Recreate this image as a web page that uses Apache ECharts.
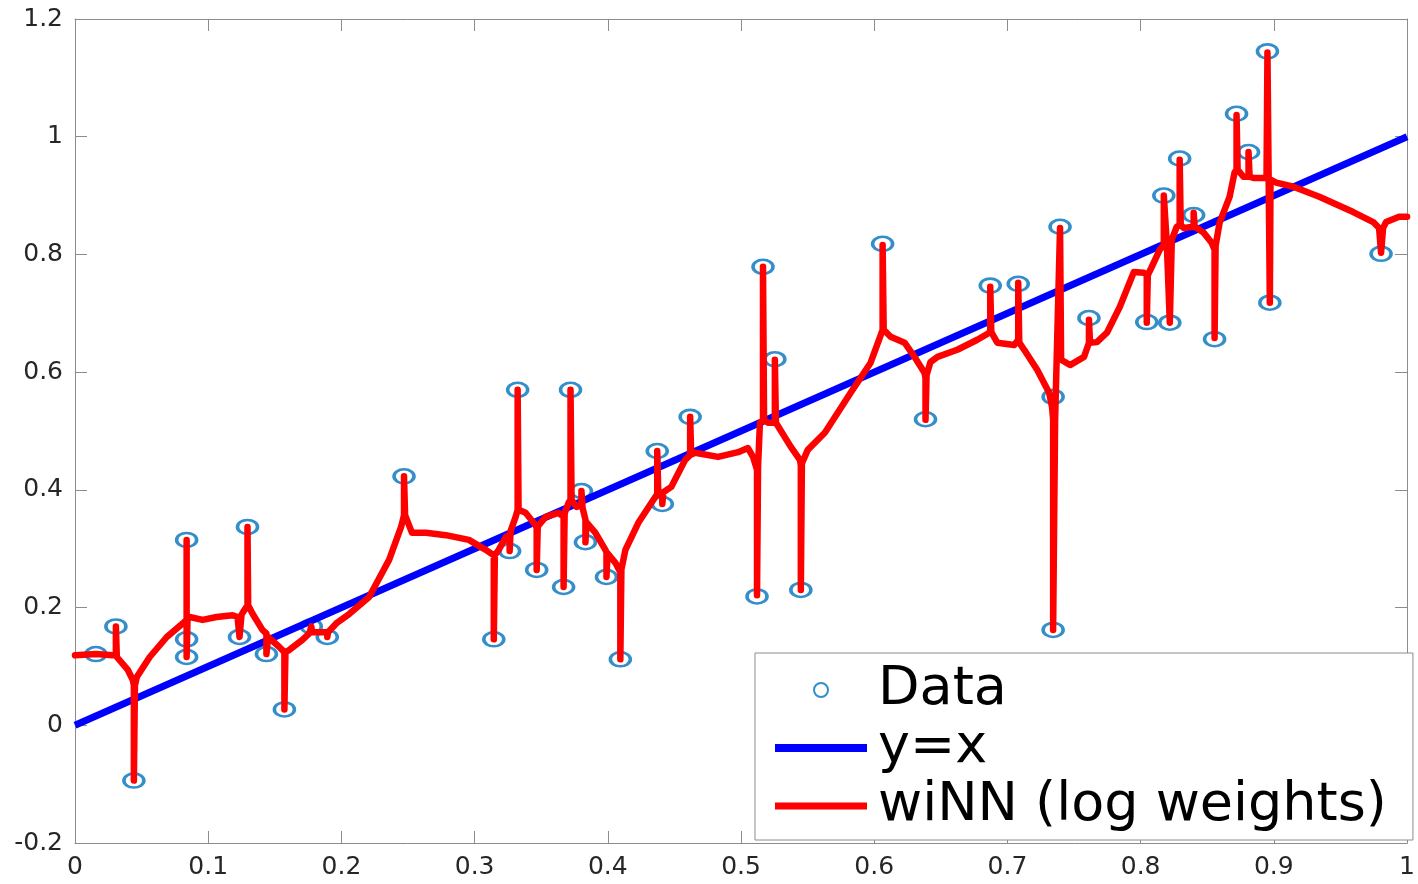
<!DOCTYPE html>
<html lang="en">
<head>
    <meta charset="UTF-8">
    <title>wiNN (log weights)</title>
    <style>
        html, body { margin: 0; padding: 0; background: #fff; }
        #main { width: 1418px; height: 884px; }
    </style>
</head>
<body>
<div id="main"></div>
<script src="https://cdn.jsdelivr.net/npm/echarts@6/dist/echarts.min.js"></script>
<script>
    const myChart = echarts.init(document.getElementById('main'));

    // noisy samples (circles)
    const dataX = [0.0157, 0.0307, 0.0442, 0.0838, 0.0838, 0.0838, 0.1295, 0.1235, 0.1437, 0.1572,
        0.1774, 0.1894, 0.2470, 0.3144, 0.3263, 0.3323, 0.3466, 0.3668, 0.3720, 0.3802,
        0.3832, 0.3990, 0.4094, 0.4371, 0.4409, 0.4618, 0.5120, 0.5165, 0.5254, 0.5449,
        0.6063, 0.6385, 0.6871, 0.7081, 0.7343, 0.7343, 0.7395, 0.7612, 0.8046, 0.8174,
        0.8219, 0.8293, 0.8398, 0.8555, 0.8720, 0.8810, 0.8952, 0.8970, 0.9805];
    const dataY = [0.121, 0.168, -0.094, 0.315, 0.146, 0.116, 0.337, 0.150, 0.121, 0.027,
        0.168, 0.150, 0.423, 0.146, 0.296, 0.570, 0.264, 0.235, 0.570, 0.398,
        0.311, 0.252, 0.112, 0.466, 0.376, 0.524, 0.219, 0.779, 0.622, 0.230,
        0.818, 0.520, 0.747, 0.750, 0.558, 0.162, 0.847, 0.692, 0.685, 0.900,
        0.684, 0.963, 0.867, 0.656, 1.039, 0.974, 1.145, 0.718, 0.801];

    // reference line y = x
    const lineX = [0, 1];
    const lineY = [0, 1];

    // wiNN fit (spikes go out to each sample)
    const curveX = [0, 0.0157, 0.0284, 0.0307, 0.0307, 0.0314, 0.0397, 0.0434, 0.0442, 0.0442,
        0.0450, 0.0464, 0.0561, 0.0689, 0.0808, 0.0838, 0.0838, 0.0838, 0.0845, 0.0861,
        0.0958, 0.1063, 0.1183, 0.1220, 0.1235, 0.1235, 0.1250, 0.1272, 0.1295, 0.1295,
        0.1300, 0.1332, 0.1407, 0.1437, 0.1437, 0.1450, 0.1534, 0.1572, 0.1572, 0.1580,
        0.1609, 0.1707, 0.1759, 0.1774, 0.1774, 0.1781, 0.1811, 0.1894, 0.1894, 0.1900,
        0.1961, 0.2058, 0.2208, 0.2358, 0.2448, 0.2470, 0.2470, 0.2478, 0.2530, 0.2635,
        0.2784, 0.2957, 0.3084, 0.3144, 0.3144, 0.3152, 0.3181, 0.3234, 0.3263, 0.3263,
        0.3270, 0.3308, 0.3323, 0.3323, 0.3330, 0.3383, 0.3458, 0.3466, 0.3466, 0.3474,
        0.3533, 0.3630, 0.3668, 0.3668, 0.3676, 0.3705, 0.3720, 0.3720, 0.3728, 0.3765,
        0.3802, 0.3802, 0.3810, 0.3832, 0.3832, 0.3840, 0.3907, 0.3982, 0.3990, 0.3990,
        0.3998, 0.4057, 0.4094, 0.4094, 0.4102, 0.4132, 0.4229, 0.4356, 0.4371, 0.4371,
        0.4379, 0.4394, 0.4409, 0.4409, 0.4417, 0.4476, 0.4581, 0.4618, 0.4618, 0.4626,
        0.4656, 0.4828, 0.4978, 0.5052, 0.5090, 0.5120, 0.5120, 0.5128, 0.5142, 0.5165,
        0.5165, 0.5173, 0.5202, 0.5254, 0.5254, 0.5262, 0.5277, 0.5374, 0.5442, 0.5449,
        0.5449, 0.5457, 0.5501, 0.5629, 0.5823, 0.5973, 0.6063, 0.6063, 0.6071, 0.6123,
        0.6228, 0.6302, 0.6377, 0.6385, 0.6385, 0.6393, 0.6422, 0.6475, 0.6624, 0.6774,
        0.6864, 0.6871, 0.6871, 0.6879, 0.6924, 0.7051, 0.7081, 0.7081, 0.7089, 0.7126,
        0.7223, 0.7313, 0.7335, 0.7343, 0.7343, 0.7358, 0.7395, 0.7403, 0.7470, 0.7575,
        0.7612, 0.7612, 0.7620, 0.7672, 0.7747, 0.7844, 0.7949, 0.8024, 0.8046, 0.8046,
        0.8054, 0.8084, 0.8144, 0.8174, 0.8174, 0.8196, 0.8219, 0.8234, 0.8271, 0.8293,
        0.8293, 0.8301, 0.8323, 0.8398, 0.8398, 0.8406, 0.8473, 0.8533, 0.8555, 0.8555,
        0.8563, 0.8593, 0.8668, 0.8705, 0.8720, 0.8720, 0.8728, 0.8772, 0.8810, 0.8810,
        0.8818, 0.8847, 0.8945, 0.8952, 0.8970, 0.8975, 0.9019, 0.9147, 0.9341, 0.9596,
        0.9746, 0.9790, 0.9805, 0.9820, 0.9843, 0.9940, 1.0000];
    const curveY = [0.119, 0.121, 0.119, 0.119, 0.168, 0.116, 0.094, 0.077, 0.068, -0.094,
        0.068, 0.082, 0.116, 0.150, 0.173, 0.179, 0.315, 0.116, 0.182, 0.184,
        0.179, 0.184, 0.187, 0.184, 0.184, 0.150, 0.188, 0.196, 0.204, 0.337,
        0.204, 0.190, 0.162, 0.156, 0.121, 0.150, 0.133, 0.124, 0.027, 0.124,
        0.128, 0.145, 0.156, 0.158, 0.168, 0.158, 0.158, 0.158, 0.150, 0.158,
        0.173, 0.189, 0.218, 0.281, 0.337, 0.357, 0.423, 0.357, 0.327, 0.327,
        0.323, 0.315, 0.298, 0.289, 0.146, 0.289, 0.298, 0.320, 0.323, 0.296,
        0.330, 0.354, 0.366, 0.570, 0.366, 0.361, 0.340, 0.335, 0.264, 0.338,
        0.354, 0.361, 0.354, 0.235, 0.360, 0.378, 0.383, 0.570, 0.383, 0.371,
        0.374, 0.398, 0.370, 0.349, 0.311, 0.345, 0.327, 0.298, 0.294, 0.252,
        0.292, 0.276, 0.260, 0.112, 0.265, 0.298, 0.344, 0.388, 0.393, 0.466,
        0.394, 0.395, 0.395, 0.376, 0.396, 0.405, 0.451, 0.459, 0.524, 0.460,
        0.463, 0.456, 0.464, 0.471, 0.456, 0.434, 0.221, 0.440, 0.514, 0.519,
        0.779, 0.519, 0.514, 0.514, 0.621, 0.514, 0.514, 0.473, 0.451, 0.442,
        0.230, 0.445, 0.468, 0.497, 0.565, 0.616, 0.672, 0.816, 0.672, 0.660,
        0.650, 0.626, 0.599, 0.590, 0.519, 0.595, 0.617, 0.626, 0.638, 0.655,
        0.667, 0.672, 0.745, 0.668, 0.650, 0.646, 0.655, 0.752, 0.650, 0.638,
        0.604, 0.565, 0.541, 0.519, 0.162, 0.519, 0.845, 0.621, 0.612, 0.626,
        0.650, 0.689, 0.650, 0.651, 0.667, 0.711, 0.770, 0.769, 0.765, 0.684,
        0.765, 0.779, 0.808, 0.816, 0.900, 0.820, 0.684, 0.825, 0.847, 0.850,
        0.961, 0.850, 0.845, 0.847, 0.871, 0.847, 0.837, 0.820, 0.808, 0.658,
        0.815, 0.854, 0.898, 0.939, 0.944, 1.037, 0.944, 0.932, 0.932, 0.974,
        0.932, 0.930, 0.930, 1.143, 0.718, 0.927, 0.922, 0.915, 0.898, 0.872,
        0.855, 0.845, 0.803, 0.845, 0.855, 0.864, 0.864];

    const zip = (xs, ys) => xs.map((x, i) => [x, ys[i]]);

    const axisGray = '#8c8c8c';
    const labelFont = {fontFamily: 'DejaVu Sans', fontSize: 25, color: '#262626'};

    function xAxisOf(pos, showLabel) {
        return {
            type: 'value', position: pos, min: 0, max: 1, interval: 0.1,
            axisLine: {show: true, onZero: false, lineStyle: {color: axisGray, width: 1}},
            axisTick: {show: true, inside: true, length: 12, lineStyle: {color: axisGray}},
            axisLabel: Object.assign({show: showLabel, margin: 12}, labelFont),
            splitLine: {show: false}
        };
    }

    function yAxisOf(pos, showLabel) {
        return {
            type: 'value', position: pos, min: -0.2, max: 1.2, interval: 0.2,
            axisLine: {show: true, onZero: false, lineStyle: {color: axisGray, width: 1}},
            axisTick: {show: true, inside: true, length: 12, lineStyle: {color: axisGray}},
            axisLabel: Object.assign({show: showLabel, margin: 12}, labelFont),
            splitLine: {show: false}
        };
    }

    const option = {
        animation: false,
        backgroundColor: '#fff',
        grid: {left: 75, right: 6, top: 19, bottom: 41},
        xAxis: [xAxisOf('bottom', true), xAxisOf('top', false)],
        yAxis: [yAxisOf('left', true), yAxisOf('right', false)],
        legend: {
            orient: 'vertical',
            left: 755,
            top: 653,
            padding: [10, 26, 7, 20],
            itemGap: 4,
            itemWidth: 92,
            itemHeight: 14,
            backgroundColor: '#fff',
            borderColor: axisGray,
            borderWidth: 1,
            textStyle: {fontFamily: 'DejaVu Sans', fontSize: 54, lineHeight: 50, color: '#000', padding: [0, 0, 0, 6]},
            data: [
                {name: 'Data', icon: 'circle'},
                {name: 'y=x', icon: 'path://M0,0H92V8H0Z'},
                {name: 'wiNN (log weights)', icon: 'path://M0,0H92V7H0Z'}
            ]
        },
        series: [
            {
                name: 'Data',
                type: 'scatter',
                data: zip(dataX, dataY),
                symbol: 'circle',
                symbolSize: [20, 14],
                itemStyle: {color: 'rgba(255,255,255,0)', borderColor: '#0072BD', borderWidth: 3},
                z: 2
            },
            {
                name: 'y=x',
                type: 'line',
                data: zip(lineX, lineY),
                showSymbol: false,
                symbol: 'none',
                itemStyle: {color: '#0000ff'},
                lineStyle: {color: '#0000ff', width: 7},
                z: 3
            },
            {
                name: 'wiNN (log weights)',
                type: 'line',
                data: zip(curveX, curveY),
                showSymbol: false,
                symbol: 'none',
                itemStyle: {color: '#ff0000'},
                lineStyle: {color: '#ff0000', width: 6.5, join: 'round', cap: 'round'},
                z: 4
            }
        ]
    };

    myChart.setOption(option);
</script>
</body>
</html>
